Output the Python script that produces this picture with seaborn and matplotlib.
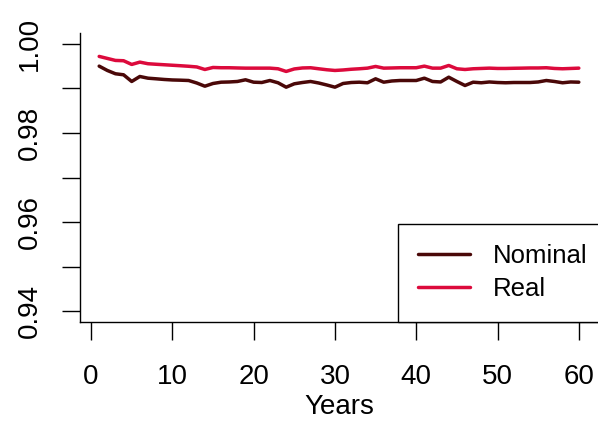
import numpy as np
import pandas as pd
import matplotlib
matplotlib.use("Agg")
import matplotlib.pyplot as plt
import seaborn as sns

# values
years = list(range(1, 61))

nominal = [
    0.99497, 0.99400, 0.99326, 0.99303, 0.99153, 0.99265, 0.99227, 0.99213, 0.99198, 0.99187,
    0.99182, 0.99175, 0.99119, 0.99047, 0.99108, 0.99137, 0.99142, 0.99153, 0.99191, 0.99137,
    0.99130, 0.99175, 0.99124, 0.99025, 0.99101, 0.99130, 0.99153, 0.99119, 0.99074, 0.99025,
    0.99108, 0.99130, 0.99137, 0.99124, 0.99213, 0.99137, 0.99164, 0.99175, 0.99175, 0.99175,
    0.99227, 0.99153, 0.99142, 0.99249, 0.99153, 0.99063, 0.99137, 0.99124, 0.99142, 0.99130,
    0.99124, 0.99130, 0.99130, 0.99130, 0.99142, 0.99175, 0.99153, 0.99124, 0.99142, 0.99137,
]

real = [
    0.99715, 0.99670, 0.99625, 0.99618, 0.99535, 0.99587, 0.99551, 0.99539, 0.99528, 0.99517,
    0.99506, 0.99494, 0.99479, 0.99422, 0.99467, 0.99461, 0.99461, 0.99456, 0.99452, 0.99452,
    0.99452, 0.99452, 0.99438, 0.99378, 0.99434, 0.99456, 0.99461, 0.99438, 0.99416, 0.99400,
    0.99411, 0.99427, 0.99438, 0.99452, 0.99490, 0.99452, 0.99456, 0.99461, 0.99461, 0.99461,
    0.99497, 0.99452, 0.99452, 0.99512, 0.99438, 0.99422, 0.99438, 0.99445, 0.99452, 0.99445,
    0.99445, 0.99449, 0.99452, 0.99456, 0.99456, 0.99461, 0.99445, 0.99438, 0.99445, 0.99452,
]

series_names = ["Nominal", "Real"]
colors = {"Nominal": "#4a0808", "Real": "#dc0a3c"}

y_ticks = [0.94, 0.95, 0.96, 0.97, 0.98, 0.99, 1.00]
y_labels = ["0.94", "", "0.96", "", "0.98", "", "1.00"]
x_ticks = [0, 10, 20, 30, 40, 50, 60]

df = pd.DataFrame({
    "Years": years * 2,
    "value": nominal + real,
    "series": ["Nominal"] * len(years) + ["Real"] * len(years),
})

sns.set_style("white")
plt.rcParams["font.family"] = ["Liberation Sans", "DejaVu Sans"]

fig = plt.figure(figsize=(5.98, 4.21), dpi=100)
ax = fig.add_axes([80 / 598, 99 / 421, 518 / 598, 289 / 421])

sns.lineplot(data=df, x="Years", y="value", hue="series", hue_order=series_names,
             palette=colors, linewidth=2.5, ax=ax)

ax.set_xlim(-1.36, 62.36)
ax.set_ylim(0.9376, 1.0024)
ax.set_xticks(x_ticks)
ax.set_yticks(y_ticks)
ax.set_yticklabels(y_labels, rotation=90, va="center")
ax.tick_params(axis="both", direction="out", length=13, width=1, color="black",
               labelsize=20, labelcolor="black", bottom=True, left=True)
ax.tick_params(axis="x", pad=17)
ax.tick_params(axis="y", pad=14)

for s in ["top", "right"]:
    ax.spines[s].set_visible(False)
for s in ["left", "bottom"]:
    ax.spines[s].set_color("black")
    ax.spines[s].set_linewidth(1.0)

ax.set_xlabel("Years", fontsize=20, labelpad=3, color="black")
ax.set_ylabel("")

leg = ax.legend(loc="lower right", bbox_to_anchor=(1 + 10 / 518, 0), fontsize=18.5,
                frameon=True, fancybox=False, edgecolor="black", framealpha=1,
                borderaxespad=0, borderpad=0.8, labelspacing=0.35,
                handlelength=2.0, handletextpad=0.9, labelcolor="black")
leg.get_frame().set_linewidth(1.0)
for line in leg.get_lines():
    line.set_linewidth(2.5)

fig.savefig("out.png", dpi=100)
